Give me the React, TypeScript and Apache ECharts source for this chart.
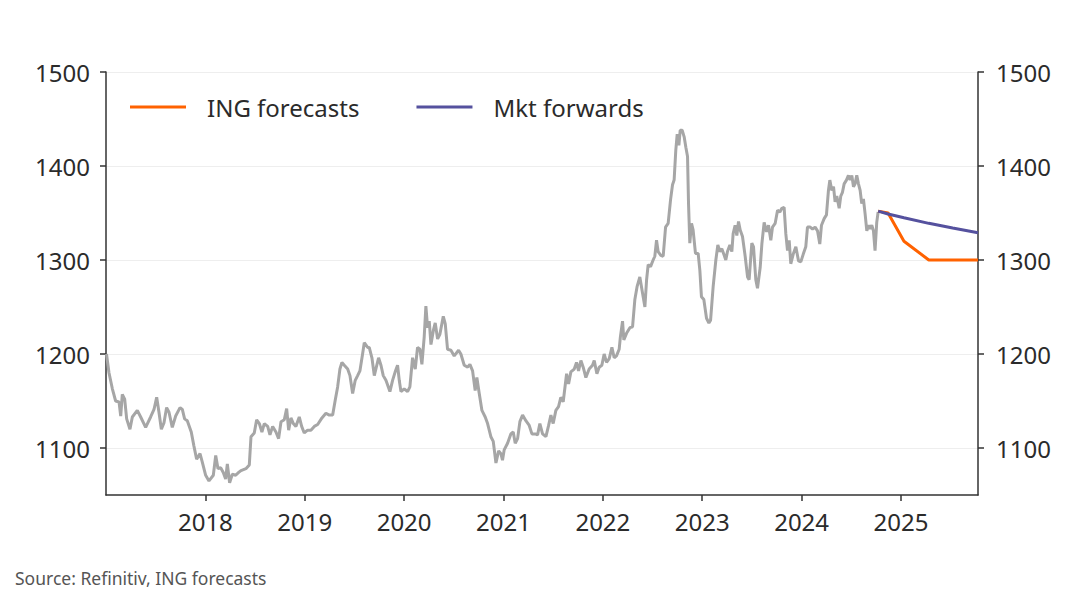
import React, { useEffect, useRef } from "react";
import * as echarts from "echarts";

// USD/KRW spot history (decimal year, level)
const spotDates: number[] = [
  2017.005, 2017.03, 2017.064, 2017.097, 2017.131, 2017.148, 2017.164, 2017.188, 2017.208, 2017.241,
  2017.265, 2017.315, 2017.349, 2017.399, 2017.449, 2017.483, 2017.51, 2017.533, 2017.557, 2017.584,
  2017.61, 2017.634, 2017.667, 2017.701, 2017.745, 2017.768, 2017.791, 2017.818, 2017.858, 2017.885,
  2017.912, 2017.946, 2017.969, 2018.003, 2018.036, 2018.08, 2018.104, 2018.127, 2018.154, 2018.18,
  2018.204, 2018.221, 2018.244, 2018.271, 2018.305, 2018.335, 2018.358, 2018.408, 2018.442, 2018.459,
  2018.492, 2018.516, 2018.543, 2018.569, 2018.593, 2018.627, 2018.65, 2018.677, 2018.71, 2018.737,
  2018.761, 2018.794, 2018.818, 2018.838, 2018.861, 2018.885, 2018.911, 2018.945, 2018.969, 2018.995,
  2019.029, 2019.062, 2019.096, 2019.13, 2019.173, 2019.213, 2019.247, 2019.281, 2019.307, 2019.331,
  2019.354, 2019.374, 2019.398, 2019.432, 2019.455, 2019.482, 2019.508, 2019.532, 2019.555, 2019.582,
  2019.599, 2019.633, 2019.649, 2019.676, 2019.7, 2019.743, 2019.767, 2019.79, 2019.817, 2019.857,
  2019.884, 2019.91, 2019.934, 2019.951, 2019.968, 2020.001, 2020.035, 2020.058, 2020.085, 2020.112,
  2020.135, 2020.159, 2020.179, 2020.202, 2020.219, 2020.236, 2020.253, 2020.27, 2020.296, 2020.313,
  2020.337, 2020.36, 2020.394, 2020.414, 2020.437, 2020.471, 2020.504, 2020.548, 2020.571, 2020.605,
  2020.639, 2020.662, 2020.689, 2020.715, 2020.732, 2020.756, 2020.783, 2020.816, 2020.84, 2020.873,
  2020.897, 2020.924, 2020.951, 2020.974, 2020.99, 2021.007, 2021.041, 2021.074, 2021.098, 2021.118,
  2021.142, 2021.165, 2021.192, 2021.225, 2021.259, 2021.286, 2021.319, 2021.343, 2021.366, 2021.393,
  2021.427, 2021.454, 2021.477, 2021.5, 2021.527, 2021.554, 2021.577, 2021.601, 2021.611, 2021.635,
  2021.655, 2021.678, 2021.712, 2021.735, 2021.755, 2021.779, 2021.802, 2021.829, 2021.862, 2021.896,
  2021.913, 2021.94, 2021.963, 2021.99, 2022.013, 2022.037, 2022.064, 2022.091, 2022.114, 2022.137,
  2022.164, 2022.176, 2022.198, 2022.211, 2022.238, 2022.272, 2022.299, 2022.322, 2022.345, 2022.372,
  2022.399, 2022.423, 2022.44, 2022.456, 2022.48, 2022.506, 2022.523, 2022.54, 2022.556, 2022.583,
  2022.607, 2022.631, 2022.657, 2022.681, 2022.701, 2022.717, 2022.734, 2022.748, 2022.765, 2022.778,
  2022.798, 2022.818, 2022.835, 2022.852, 2022.862, 2022.875, 2022.892, 2022.908, 2022.932, 2022.959,
  2022.976, 2022.992, 2023.016, 2023.043, 2023.067, 2023.084, 2023.11, 2023.137, 2023.157, 2023.177,
  2023.197, 2023.221, 2023.237, 2023.254, 2023.278, 2023.298, 2023.311, 2023.331, 2023.348, 2023.365,
  2023.382, 2023.405, 2023.432, 2023.456, 2023.472, 2023.499, 2023.516, 2023.539, 2023.556, 2023.583,
  2023.6, 2023.623, 2023.647, 2023.667, 2023.69, 2023.707, 2023.734, 2023.758, 2023.781, 2023.801,
  2023.824, 2023.841, 2023.858, 2023.875, 2023.891, 2023.915, 2023.942, 2023.969, 2023.992, 2024.016,
  2024.042, 2024.059, 2024.086, 2024.11, 2024.136, 2024.16, 2024.183, 2024.2, 2024.227, 2024.25,
  2024.27, 2024.284, 2024.304, 2024.321, 2024.337, 2024.354, 2024.378, 2024.394, 2024.411, 2024.428,
  2024.451, 2024.471, 2024.488, 2024.505, 2024.522, 2024.538, 2024.555, 2024.572, 2024.589, 2024.605,
  2024.622, 2024.639, 2024.656, 2024.673, 2024.689, 2024.706, 2024.723, 2024.739, 2024.756, 2024.77,
];

const spotValues: number[] = [
  1200, 1180, 1163, 1150, 1149, 1134, 1157, 1152, 1131, 1120,
  1133, 1140, 1133, 1122, 1133, 1141, 1154, 1138, 1120, 1127,
  1143, 1138, 1122, 1134, 1143, 1141, 1131, 1129, 1117, 1102,
  1088, 1094, 1085, 1071, 1065, 1071, 1092, 1078, 1079, 1074,
  1067, 1083, 1063, 1072, 1071, 1074, 1076, 1078, 1082, 1112,
  1116, 1130, 1126, 1117, 1126, 1123, 1114, 1123, 1117, 1110,
  1128, 1130, 1142, 1119, 1132, 1126, 1123, 1133, 1123, 1116,
  1119, 1119, 1123, 1125, 1132, 1137, 1135, 1135, 1151, 1165,
  1184, 1191, 1188, 1184, 1177, 1158, 1172, 1177, 1182, 1200,
  1212, 1207, 1207, 1196, 1177, 1196, 1188, 1177, 1172, 1160,
  1172, 1181, 1188, 1172, 1160, 1163, 1160, 1165, 1196, 1184,
  1207, 1205, 1189, 1218, 1251, 1228, 1235, 1210, 1226, 1233,
  1216, 1221, 1240, 1232, 1205, 1204, 1198, 1204, 1200, 1188,
  1186, 1189, 1182, 1161, 1175, 1158, 1140, 1133, 1126, 1112,
  1107, 1084, 1097, 1094, 1087, 1098, 1105, 1115, 1117, 1105,
  1110, 1128, 1135, 1129, 1124, 1115, 1115, 1114, 1126, 1115,
  1112, 1124, 1135, 1126, 1140, 1144, 1154, 1149, 1158, 1179,
  1168, 1181, 1184, 1191, 1182, 1193, 1186, 1175, 1184, 1188,
  1193, 1179, 1186, 1188, 1200, 1191, 1195, 1207, 1196, 1198,
  1205, 1218, 1235, 1215, 1222, 1228, 1229, 1258, 1272, 1282,
  1265, 1250, 1279, 1295, 1293, 1300, 1304, 1321, 1309, 1305,
  1304, 1335, 1339, 1364, 1380, 1385, 1417, 1434, 1422, 1438,
  1438, 1431, 1420, 1410, 1360, 1318, 1339, 1332, 1307, 1307,
  1289, 1261, 1258, 1238, 1233, 1236, 1272, 1300, 1316, 1309,
  1312, 1305, 1300, 1309, 1316, 1309, 1328, 1337, 1326, 1341,
  1332, 1325, 1304, 1282, 1279, 1318, 1314, 1279, 1270, 1292,
  1317, 1340, 1330, 1337, 1321, 1335, 1339, 1353, 1351, 1355,
  1356, 1328, 1310, 1321, 1296, 1306, 1314, 1299, 1298, 1306,
  1314, 1335, 1335, 1333, 1335, 1331, 1317, 1337, 1344, 1348,
  1374, 1385, 1374, 1378, 1362, 1368, 1355, 1368, 1372, 1381,
  1385, 1390, 1385, 1390, 1378, 1381, 1390, 1381, 1374, 1360,
  1365, 1349, 1331, 1337, 1333, 1337, 1331, 1310, 1340, 1351,
];

const ingDates: number[] = [2024.77, 2024.87, 2025.03, 2025.28, 2025.775];
const ingValues: number[] = [1352, 1350, 1320, 1300, 1300];

const fwdDates: number[] = [2024.77, 2024.87, 2025.03, 2025.28, 2025.52, 2025.775];
const fwdValues: number[] = [1352, 1349, 1345, 1339, 1334, 1329];

const yearTicks: number[] = [2018, 2019, 2020, 2021, 2022, 2023, 2024, 2025];
const levelTicks: number[] = [1100, 1200, 1300, 1400, 1500];

const FONT = "'Noto Sans', 'Open Sans', sans-serif";
const TEXT = "#2b2b2b";
const AXIS = "#333333";

const pairs = (xs: number[], ys: number[]) => xs.map((x, i) => [x, ys[i]]);

export default function App() {
  const ref = useRef<HTMLDivElement>(null);

  useEffect(() => {
    if (!ref.current) return;
    const chart = echarts.init(ref.current, undefined, { renderer: "svg" });

    const yAxisBase = (position: "left" | "right", margin: number, split: boolean) => ({
      type: "value",
      position,
      min: 1050,
      max: 1500,
      axisLine: { show: true, lineStyle: { color: AXIS, width: 1.5 } },
      axisTick: { show: true, customValues: levelTicks, length: 6, lineStyle: { color: AXIS, width: 1.5 } },
      axisLabel: {
        customValues: levelTicks,
        margin,
        color: TEXT,
        fontSize: 24,
        fontFamily: FONT,
        formatter: (v: number) => String(v),
      },
      splitLine: { show: split, lineStyle: { color: "#eeeeee", width: 1 } },
    });

    chart.setOption({
      animation: false,
      backgroundColor: "#ffffff",
      textStyle: { fontFamily: FONT },
      grid: { left: 106, right: 94, top: 72, bottom: 107, containLabel: false },
      legend: {
        data: ["ING forecasts", "Mkt forwards"],
        left: 130,
        top: 95,
        padding: 0,
        icon: "rect",
        itemWidth: 56,
        itemHeight: 3,
        itemGap: 57,
        textStyle: { color: TEXT, fontSize: 24, fontFamily: FONT, padding: [0, 0, 0, 16], lineHeight: 24 },
      },
      xAxis: {
        type: "value",
        min: 2017,
        max: 2025.775,
        axisLine: { show: true, lineStyle: { color: AXIS, width: 1.5 } },
        axisTick: { show: true, customValues: yearTicks, length: 6, lineStyle: { color: AXIS, width: 1.5 } },
        axisLabel: {
          customValues: yearTicks,
          margin: 14,
          color: TEXT,
          fontSize: 24,
          fontFamily: FONT,
          formatter: (v: number) => String(Math.round(v)),
        },
        splitLine: { show: false },
      },
      yAxis: [yAxisBase("left", 16, true), yAxisBase("right", 18, false)],
      series: [
        {
          name: "USD/KRW",
          type: "line",
          data: pairs(spotDates, spotValues),
          yAxisIndex: 0,
          symbol: "none",
          lineStyle: { color: "#a6a6a6", width: 3 },
          z: 2,
        },
        {
          name: "ING forecasts",
          type: "line",
          data: pairs(ingDates, ingValues),
          yAxisIndex: 0,
          symbol: "none",
          color: "#ff6200",
          lineStyle: { color: "#ff6200", width: 3 },
          z: 3,
        },
        {
          name: "Mkt forwards",
          type: "line",
          data: pairs(fwdDates, fwdValues),
          yAxisIndex: 0,
          symbol: "none",
          color: "#55519e",
          lineStyle: { color: "#55519e", width: 3 },
          z: 4,
        },
      ],
      graphic: [
        {
          type: "text",
          left: 15,
          top: 569,
          style: {
            text: "Source: Refinitiv, ING forecasts",
            fill: "#555555",
            fontSize: 17.5,
            fontFamily: FONT,
          },
        },
      ],
    });

    return () => chart.dispose();
  }, []);

  return (
    <div
      ref={ref}
      style={{ position: "absolute", left: 0, top: 0, width: 1072, height: 602 }}
    />
  );
}
